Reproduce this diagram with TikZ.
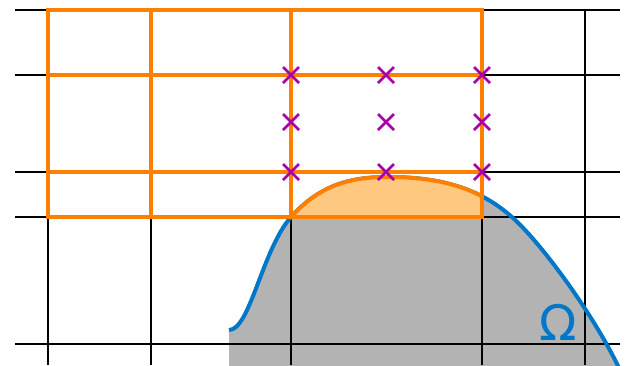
\documentclass[tikz,border=0pt]{standalone}
\usepackage{fontspec}
\newfontfamily\omegafont{DejaVu Sans}

\definecolor{meshorange}{RGB}{255,128,0}
\definecolor{capfill}{RGB}{255,200,128}
\definecolor{domgray}{RGB}{179,179,179}
\definecolor{bdryblue}{RGB}{0,119,200}
\definecolor{markmagenta}{RGB}{170,0,170}

\tikzset{
  gridline/.style={black, line width=1.3pt},
  meshline/.style={meshorange, line width=4pt},
  bdryline/.style={bdryblue, line width=4pt},
  markline/.style={markmagenta, line width=2.5pt}
}

% boundary of the domain, in pixel coordinates
\newcommand\bdrypath{(229,330) .. controls (250,330) and (262,250) .. (291,217)
  .. controls (320,185) and (350,177) .. (388,177)
  .. controls (440,177) and (480,188) .. (513,218)
  .. controls (543,245) and (595,317) .. (620,370)}

\begin{document}
\begin{tikzpicture}[x=1pt, y=-1pt]
    \useasboundingbox (0,0) rectangle (630,365);
    \clip (0,0) rectangle (630,365);

    % Domain and background grid
    \fill[domgray] \bdrypath -- (229,370) -- cycle;
    \foreach \y in {10,75,172,217,344} \draw[gridline] (15,\y) -- (620,\y);
    \foreach \x in {48,151,291,482,585} \draw[gridline] (\x,10) -- (\x,365);
    \draw[bdryline] \bdrypath;

    % Part of the domain that sticks into the mesh cell
    \begin{scope}
        \clip (291,0) rectangle (482,217);
        \fill[capfill] \bdrypath -- (229,370) -- cycle;
        \draw[meshline] \bdrypath;
    \end{scope}

    % Mesh cells
    \draw[meshline] (48,10) rectangle (482,217);
    \draw[meshline] (151,10) -- (151,217);
    \draw[meshline] (291,10) -- (291,217);
    \draw[meshline] (48,75) -- (482,75);
    \draw[meshline] (48,172) -- (482,172);

    % Nodes of the cell
    \foreach \x in {291,386,482}
        \foreach \y in {75,122,172}
            \draw[markline] (\x-8,\y-8) -- (\x+8,\y+8)
                            (\x-8,\y+8) -- (\x+8,\y-8);

    \node[text=bdryblue, inner sep=0pt, font=\omegafont\fontsize{49}{49}\selectfont]
        (omega) at (558.5,322) {Ω};
\end{tikzpicture}
\end{document}
